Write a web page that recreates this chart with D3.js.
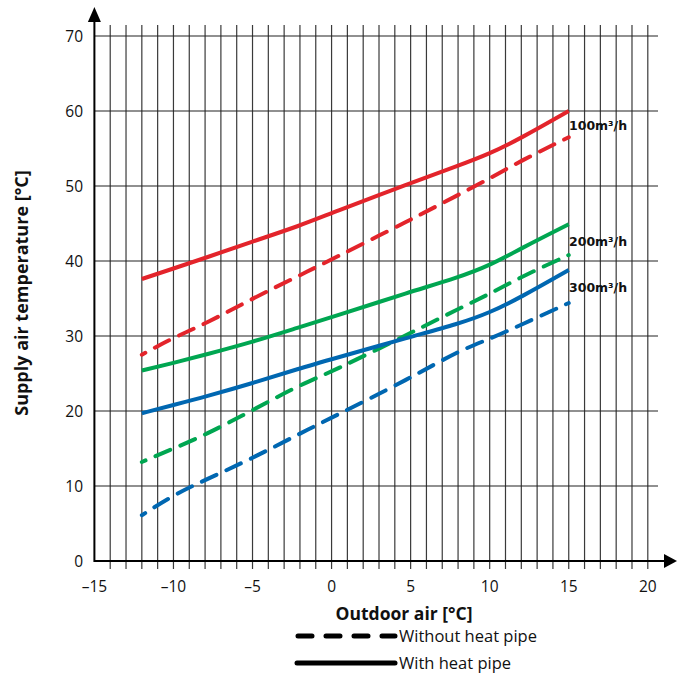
<!DOCTYPE html>
<html>
<head>
<meta charset="utf-8">
<script src="https://cdn.jsdelivr.net/npm/d3@7"></script>
<style>
  html, body { margin: 0; padding: 0; background: #fff; }
  svg { display: block; }
</style>
</head>
<body>
<div id="chart"></div>
<script>
// ---- data ----
const outdoorTemps = [-12, -10, -8, -5, -2, 0, 5, 8, 10, 12, 15];
const with100 =    [37.6, 39.0, 40.4, 42.6, 44.7, 46.4, 50.4, 52.7, 54.3, 56.4, 60.0];
const without100 = [27.5, 29.8, 31.6, 35.0, 38.1, 40.2, 45.5, 48.8, 51.0, 53.4, 56.5];
const with200 =    [25.4, 26.4, 27.5, 29.2, 31.2, 32.5, 35.9, 37.8, 39.4, 41.7, 44.9];
const without200 = [13.2, 15.0, 16.8, 20.1, 23.5, 25.2, 30.4, 33.6, 35.6, 37.9, 40.8];
const with300 =    [19.7, 20.8, 21.9, 23.7, 25.7, 26.9, 29.9, 31.6, 33.1, 35.2, 38.8];
const without300 = [6.1, 8.8, 10.8, 13.7, 17.0, 19.1, 24.4, 28.0, 29.6, 31.5, 34.4];
const flowLabels = ["100m³/h", "200m³/h", "300m³/h"];
const xTicks = [-15, -10, -5, 0, 5, 10, 15, 20];
const yTicks = [0, 10, 20, 30, 40, 50, 60, 70];
const legendLabels = ["Without heat pipe", "With heat pipe"];

// ---- setup ----
const W = 683, H = 677;
const svg = d3.select("#chart").append("svg").attr("width", W).attr("height", H);
const x = d3.scaleLinear().domain([-15, 20]).range([94.4, 647.8]);
const y = d3.scaleLinear().domain([0, 70]).range([561, 36]);
const FONT = "'Open Sans', 'DejaVu Sans', sans-serif";

const colors = { red: "#e3242b", green: "#00a651", blue: "#0067b1" };

// vertical grid lines (every 1 °C)
const vGrid = d3.range(-14, 21);
svg.append("g").selectAll("line").data(vGrid).join("line")
  .attr("x1", d => x(d)).attr("x2", d => x(d))
  .attr("y1", 25).attr("y2", 569)
  .attr("stroke", "#3a3a3a").attr("stroke-width", 1.2);

// horizontal grid lines
svg.append("g").selectAll("line").data(yTicks.filter(d => d > 0)).join("line")
  .attr("x1", x(-15)).attr("x2", 658)
  .attr("y1", d => y(d)).attr("y2", d => y(d))
  .attr("stroke", "#222").attr("stroke-width", 1.2);

// axes lines
svg.append("line").attr("x1", x(-15)).attr("x2", 666).attr("y1", y(0)).attr("y2", y(0))
  .attr("stroke", "#000").attr("stroke-width", 2);
svg.append("line").attr("x1", x(-15)).attr("x2", x(-15)).attr("y1", y(0) + 1).attr("y2", 20)
  .attr("stroke", "#000").attr("stroke-width", 2);
// arrows
svg.append("path").attr("d", `M${x(-15)},7 L${x(-15) - 6.5},22 L${x(-15) + 6.5},22 Z`).attr("fill", "#000");
svg.append("path").attr("d", `M677,${y(0)} L664,${y(0) - 7} L664,${y(0) + 7} Z`).attr("fill", "#000");

// tick labels
svg.append("g").selectAll("text").data(xTicks).join("text")
  .attr("x", d => x(d)).attr("y", 592)
  .attr("text-anchor", "middle")
  .attr("font-family", FONT).attr("font-size", 15.5).attr("fill", "#111")
  .text(d => d < 0 ? "–" + Math.abs(d) : d);
svg.append("g").selectAll("text").data(yTicks).join("text")
  .attr("x", 83).attr("y", d => y(d) + 5.5)
  .attr("text-anchor", "end")
  .attr("font-family", FONT).attr("font-size", 15.5).attr("fill", "#111")
  .text(d => d);

// axis titles
svg.append("text").attr("x", 404).attr("y", 620).attr("text-anchor", "middle")
  .attr("font-family", FONT).attr("font-weight", "bold").attr("font-size", 17.5)
  .attr("fill", "#111").text("Outdoor air [°C]");
svg.append("text").attr("transform", "translate(28,293) rotate(-90)").attr("text-anchor", "middle")
  .attr("font-family", FONT).attr("font-weight", "bold").attr("font-size", 18)
  .attr("fill", "#111").text("Supply air temperature [°C]");

// series
const series = [
  { values: with100, color: colors.red, dashed: false },
  { values: without100, color: colors.red, dashed: true },
  { values: with200, color: colors.green, dashed: false },
  { values: without200, color: colors.green, dashed: true },
  { values: with300, color: colors.blue, dashed: false },
  { values: without300, color: colors.blue, dashed: true }
];
const line = d3.line().x(d => x(d[0])).y(d => y(d[1])).curve(d3.curveBasis);
svg.append("g").selectAll("path").data(series).join("path")
  .attr("d", s => line(outdoorTemps.map((t, i) => [t, s.values[i]])))
  .attr("fill", "none")
  .attr("stroke", s => s.color)
  .attr("stroke-width", 4)
  .attr("stroke-linecap", s => s.dashed ? "round" : "butt")
  .attr("stroke-dasharray", s => s.dashed ? "16,11" : null)
  .attr("stroke-dashoffset", s => s.dashed ? 12 : null);

// flow labels
svg.append("g").selectAll("text").data(flowLabels).join("text")
  .attr("x", 569).attr("y", (d, i) => [130, 246, 292][i])
  .attr("font-family", "'DejaVu Sans', sans-serif").attr("font-weight", "bold")
  .attr("font-size", 12.5).attr("fill", "#111")
  .text(d => d);

// legend
const legY = [636, 663];
svg.append("line").attr("x1", 298).attr("x2", 395).attr("y1", legY[0]).attr("y2", legY[0])
  .attr("stroke", "#000").attr("stroke-width", 5).attr("stroke-linecap", "round")
  .attr("stroke-dasharray", "14,14");
svg.append("line").attr("x1", 297).attr("x2", 395).attr("y1", legY[1]).attr("y2", legY[1])
  .attr("stroke", "#000").attr("stroke-width", 5).attr("stroke-linecap", "round");
svg.append("g").selectAll("text").data(legendLabels).join("text")
  .attr("x", 399).attr("y", (d, i) => legY[i] + 6)
  .attr("font-family", FONT).attr("font-size", 16.5).attr("fill", "#111")
  .text(d => d);
</script>
</body>
</html>
